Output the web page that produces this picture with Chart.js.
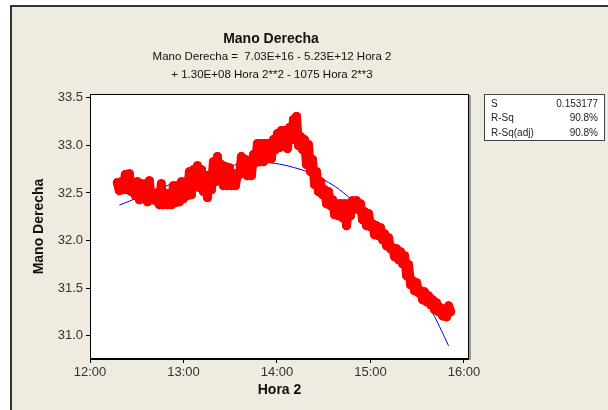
<!DOCTYPE html>
<html>
<head>
<meta charset="utf-8">
<script src="https://cdn.jsdelivr.net/npm/chart.js@4.4.1/dist/chart.umd.min.js"></script>
<style>
  body { margin: 0; background: #fff; }
  #wrap { position: relative; width: 608px; height: 410px; overflow: hidden; }
  #marco { position: absolute; left: 10px; top: 5px; right: 0; bottom: 0; background: #efebe0; border-left: 2px solid #333; border-top: 2px solid #333; }
  canvas { position: absolute; left: 0; top: 0; }
</style>
</head>
<body>
<div id="wrap">
  <div id="marco"></div>
  <canvas id="grafico" width="608" height="410"></canvas>
</div>
<script>
// Hora 2 (horas decimales) y Mano Derecha
var hora = [
  12.292, 12.314, 12.335, 12.357, 12.378, 12.399, 12.421, 12.442, 12.464, 12.485,
  12.506, 12.528, 12.549, 12.571, 12.592, 12.614, 12.635, 12.656, 12.678, 12.699,
  12.721, 12.742, 12.763, 12.785, 12.806, 12.828, 12.849, 12.870, 12.892, 12.913,
  12.935, 12.956, 12.978, 12.999, 13.020, 13.042, 13.063, 13.085, 13.106, 13.127,
  13.149, 13.170, 13.192, 13.213, 13.235, 13.256, 13.277, 13.299, 13.320, 13.342,
  13.363, 13.384, 13.406, 13.427, 13.449, 13.470, 13.491, 13.513, 13.534, 13.556,
  13.577, 13.599, 13.620, 13.641, 13.663, 13.684, 13.706, 13.727, 13.748, 13.770,
  13.791, 13.813, 13.834, 13.856, 13.877, 13.898, 13.920, 13.941, 13.963, 13.984,
  14.005, 14.027, 14.048, 14.070, 14.091, 14.112, 14.134, 14.155, 14.177, 14.198,
  14.209, 14.230, 14.252, 14.273, 14.294, 14.316, 14.337, 14.359, 14.380, 14.402,
  14.423, 14.444, 14.466, 14.487, 14.509, 14.530, 14.551, 14.573, 14.594, 14.616,
  14.637, 14.658, 14.680, 14.701, 14.723, 14.744, 14.766, 14.787, 14.808, 14.830,
  14.851, 14.873, 14.894, 14.915, 14.937, 14.958, 14.980, 15.001, 15.022, 15.044,
  15.065, 15.087, 15.108, 15.130, 15.151, 15.172, 15.194, 15.215, 15.237, 15.258,
  15.279, 15.301, 15.322, 15.344, 15.365, 15.387, 15.408, 15.429, 15.451, 15.472,
  15.494, 15.515, 15.536, 15.558, 15.579, 15.601, 15.622, 15.644, 15.665, 15.686,
  15.708, 15.729, 15.751, 15.772, 15.793, 15.815, 15.836, 15.858
];
var manoDerecha = [
  32.608, 32.524, 32.619, 32.535, 32.693, 32.535, 32.703, 32.514, 32.566, 32.472,
  32.619, 32.429, 32.598, 32.451, 32.598, 32.408, 32.629, 32.429, 32.493, 32.419,
  32.503, 32.377, 32.598, 32.377, 32.493, 32.377, 32.493, 32.377, 32.577, 32.398,
  32.577, 32.408, 32.619, 32.440, 32.619, 32.472, 32.724, 32.482, 32.745, 32.587,
  32.787, 32.556, 32.745, 32.514, 32.682, 32.451, 32.682, 32.535, 32.829, 32.619,
  32.882, 32.640, 32.798, 32.577, 32.777, 32.577, 32.766, 32.577, 32.703, 32.577,
  32.703, 32.693, 32.882, 32.714, 32.851, 32.682, 32.840, 32.682, 32.903, 32.819,
  33.019, 32.829, 33.019, 32.829, 33.019, 32.861, 33.019, 32.861, 33.061, 32.956,
  33.124, 32.977, 33.156, 33.029, 33.156, 32.966, 33.187, 33.061, 33.272, 33.187,
  33.303, 32.998, 33.093, 32.956, 33.061, 32.798, 33.008, 32.724, 32.851, 32.587,
  32.724, 32.514, 32.619, 32.482, 32.535, 32.387, 32.514, 32.366, 32.429, 32.272,
  32.387, 32.261, 32.387, 32.240, 32.387, 32.156, 32.387, 32.261, 32.419, 32.345,
  32.419, 32.324, 32.387, 32.219, 32.303, 32.156, 32.282, 32.145, 32.177, 32.061,
  32.156, 32.051, 32.135, 32.008, 32.072, 31.945, 32.029, 31.914, 31.924, 31.830,
  31.914, 31.798, 31.882, 31.756, 31.840, 31.630, 31.745, 31.535, 31.577, 31.472,
  31.556, 31.451, 31.472, 31.377, 31.461, 31.356, 31.419, 31.324, 31.377, 31.272,
  31.345, 31.251, 31.293, 31.208, 31.272, 31.198, 31.314, 31.251
];

// linea ajustada (cubica)
var ajusteHora = [12.314, 12.421, 12.581, 12.742, 12.903, 13.063, 13.224, 13.384, 13.545, 13.706,
  13.866, 14.027, 14.187, 14.348, 14.509, 14.669, 14.830, 14.990, 15.151, 15.312,
  15.472, 15.633, 15.740, 15.836];
var ajusteValor = [32.372, 32.414, 32.482, 32.545, 32.608, 32.666, 32.719, 32.761, 32.793, 32.814,
  32.819, 32.803, 32.766, 32.714, 32.635, 32.535, 32.398, 32.230, 32.040, 31.830,
  31.587, 31.303, 31.093, 30.893];

var xTicks = [12, 13, 14, 15, 16];
var xTickLabels = ["12:00", "13:00", "14:00", "15:00", "16:00"];
var yTicks = [31.0, 31.5, 32.0, 32.5, 33.0, 33.5];
var yTickLabels = ["31.0", "31.5", "32.0", "32.5", "33.0", "33.5"];

var titulo = "Mano Derecha";
var ecuacion = ["Mano Derecha =  7.03E+16 - 5.23E+12 Hora 2", "+ 1.30E+08 Hora 2**2 - 1075 Hora 2**3"];
var statNombres = ["S", "R-Sq", "R-Sq(adj)"];
var statValores = ["0.153177", "90.8%", "90.8%"];

var FUENTE = "'Liberation Sans', Arial, sans-serif";

var fondoPlot = {
  id: 'fondoPlot',
  beforeDraw: function(chart) {
    var a = chart.chartArea, ctx = chart.ctx;
    ctx.save();
    ctx.fillStyle = '#fff';
    ctx.fillRect(a.left, a.top, a.right - a.left, a.bottom - a.top);
    ctx.restore();
  },
  afterDraw: function(chart) {
    var a = chart.chartArea, ctx = chart.ctx;
    ctx.save();
    // marco del area de datos
    ctx.strokeStyle = '#000';
    ctx.lineWidth = 1;
    ctx.strokeRect(a.left + 0.5, a.top + 0.5, a.right - a.left - 1, a.bottom - a.top - 1);
    ctx.fillStyle = '#9a9a9a';
    ctx.fillRect(a.right, a.top + 1, 2, a.bottom - a.top);

    // titulos
    ctx.fillStyle = '#111';
    ctx.textAlign = 'center';
    ctx.textBaseline = 'middle';
    ctx.font = 'bold 14px ' + FUENTE;
    ctx.fillText(titulo, 271, 39);
    ctx.font = '11.5px ' + FUENTE;
    ctx.fillText(ecuacion[0], 272, 57);
    ctx.fillText(ecuacion[1], 272, 75);

    // cuadro de estadisticos
    ctx.fillStyle = '#fff';
    ctx.fillRect(484, 94, 121, 47);
    ctx.strokeStyle = '#444';
    ctx.strokeRect(484.5, 94.5, 120, 46);
    ctx.font = '10px ' + FUENTE;
    ctx.fillStyle = '#222';
    for (var i = 0; i < statNombres.length; i++) {
      var y = 104 + i * 14.5;
      ctx.textAlign = 'left';
      ctx.fillText(statNombres[i], 491, y);
      ctx.textAlign = 'right';
      ctx.fillText(statValores[i], 598, y);
    }
    ctx.restore();
  }
};

var ctx = document.getElementById('grafico').getContext('2d');
var grafico = new Chart(ctx, {
  type: 'scatter',
  data: {
    datasets: [
      {
        label: 'Mano Derecha',
        data: hora.map(function(h, i) { return {x: h, y: manoDerecha[i]}; }),
        showLine: true,
        borderColor: '#ff0000',
        borderWidth: 9,
        borderJoinStyle: 'round',
        borderCapStyle: 'round',
        backgroundColor: '#ff0000',
        pointRadius: 4.5,
        pointBorderWidth: 0,
        order: 1
      },
      {
        label: 'Ajuste',
        data: ajusteHora.map(function(h, i) { return {x: h, y: ajusteValor[i]}; }),
        showLine: true,
        borderColor: '#0000ff',
        borderWidth: 1,
        pointRadius: 0,
        cubicInterpolationMode: 'monotone',
        order: 2
      }
    ]
  },
  options: {
    responsive: false,
    animation: false,
    layout: { padding: { left: 0, top: 94, right: 139, bottom: 0 } },
    plugins: {
      legend: { display: false },
      tooltip: { enabled: false }
    },
    scales: {
      x: {
        type: 'linear',
        min: 12,
        max: 16.054,
        afterBuildTicks: function(scale) { scale.ticks = xTicks.map(function(v) { return {value: v}; }); },
        afterFit: function(scale) { scale.height = 51; },
        ticks: {
          font: { family: FUENTE, size: 13 },
          color: '#333',
          padding: 2,
          maxRotation: 0,
          callback: function(v, i) { return xTickLabels[i]; }
        },
        grid: { drawOnChartArea: false, drawTicks: true, tickLength: 4, color: '#000' },
        border: { display: true, color: '#000' },
        title: {
          display: true,
          text: 'Hora 2',
          font: { family: FUENTE, size: 14, weight: 'bold' },
          color: '#111',
          padding: { top: 0, bottom: 11 }
        }
      },
      y: {
        type: 'linear',
        min: 30.755,
        max: 33.54,
        afterBuildTicks: function(scale) { scale.ticks = yTicks.map(function(v) { return {value: v}; }); },
        afterFit: function(scale) { scale.width = 90; },
        ticks: {
          font: { family: FUENTE, size: 13 },
          color: '#333',
          padding: 3,
          callback: function(v, i) { return yTickLabels[i]; }
        },
        grid: { drawOnChartArea: false, drawTicks: true, tickLength: 4, color: '#000' },
        border: { display: true, color: '#000' },
        title: {
          display: true,
          text: 'Mano Derecha',
          font: { family: FUENTE, size: 14, weight: 'bold' },
          color: '#111',
          padding: { top: 31, bottom: 0 }
        }
      }
    }
  },
  plugins: [fondoPlot]
});
</script>
</body>
</html>
